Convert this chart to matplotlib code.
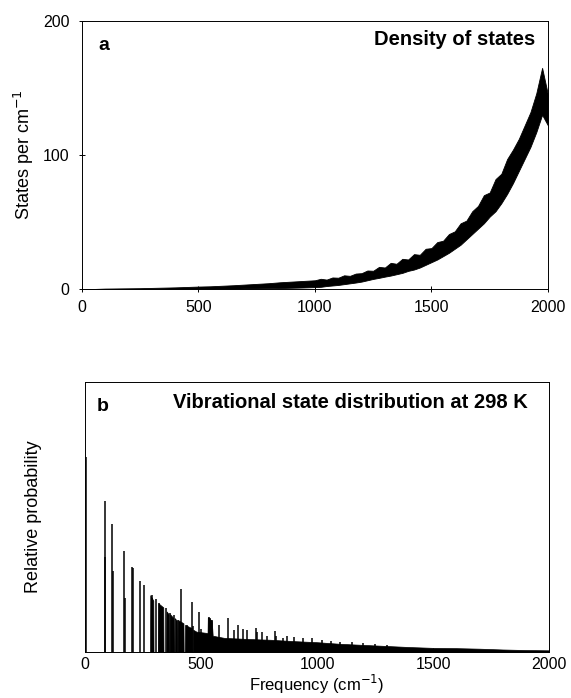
import matplotlib
matplotlib.use('Agg')
import matplotlib.pyplot as plt
import numpy as np

plt.rcParams['font.family'] = ['Liberation Sans', 'DejaVu Sans']

dos_freq = [0, 50, 100, 150, 200, 250, 300, 350, 400, 450, 500, 550, 600, 650, 700,
            750, 800, 850, 900, 950, 1000,
            1025, 1050, 1075, 1100, 1125, 1150, 1175, 1200, 1225, 1250, 1275, 1300,
            1325, 1350, 1375, 1400, 1425, 1450, 1475, 1500, 1525, 1550, 1575, 1600,
            1625, 1650, 1675, 1700, 1725, 1750, 1775, 1800, 1825, 1850, 1875, 1900,
            1925, 1950, 1975, 2000]
dos_high = [0, 0, 0.3, 0.4, 0.5, 0.6, 0.8, 1.0, 1.2, 1.5, 1.8, 2.0, 2.4, 2.8, 3.3,
            3.8, 4.3, 5.0, 5.5, 6.0, 6.5,
            7.6, 7.0, 8.6, 8.4, 10.2, 9.8, 11.5, 11.8, 13.8, 13.6, 16.5, 16.0,
            19.5, 18.8, 22.5, 22.0, 26.0, 25.5, 30.0, 30.5, 35.0, 36.0, 41.0, 43.0,
            49.0, 51.0, 58.0, 62.0, 70.0, 72.0, 82.0, 86.0, 97.0, 104.0, 112.0, 122.0,
            132.0, 146.0, 165.0, 145.0]
dos_low = [0, 0, 0, 0, 0, 0, 0, 0, 0.1, 0.1, 0.2, 0.2, 0.3, 0.3, 0.4,
           0.4, 0.5, 0.7, 0.9, 1.1, 1.4,
           1.6, 2.2, 2.6, 3.0, 3.6, 4.2, 4.8, 5.5, 6.5, 7.5, 8.3, 9.2,
           10, 11, 12, 13.5, 14.5, 16, 18, 20, 22, 24.5, 27, 30,
           33, 37, 41, 45, 49, 54, 58, 64, 71, 79, 88, 97,
           106, 117, 130, 122]

# Panel b: individual state sticks (frequency, relative height)
stick_freq = [2, 86, 88, 118, 120, 168, 170, 202, 205, 238, 254, 287, 290, 305,
              320, 348, 365, 382, 402, 414, 438, 460, 467, 492, 500, 532, 540,
              546, 578, 615, 640, 661, 680, 697, 736, 762, 784, 819, 740, 823,
              855, 870, 900, 940, 980, 1020, 1060, 1100, 1150, 1200, 1250, 1300]
stick_height = [0.72, 0.56, 0.35, 0.475, 0.30, 0.373, 0.20, 0.314, 0.31, 0.264,
                0.249, 0.211, 0.20, 0.196, 0.18, 0.162, 0.145, 0.135, 0.12,
                0.233, 0.101, 0.184, 0.095, 0.149, 0.085, 0.128, 0.125, 0.12,
                0.10, 0.124, 0.08, 0.10, 0.085, 0.08, 0.09, 0.075, 0.06, 0.079,
                0.074, 0.06, 0.052, 0.058, 0.055, 0.05, 0.05, 0.045, 0.042,
                0.038, 0.035, 0.032, 0.028, 0.024]

# Panel b: outline of the dense, unresolved blocks of states
env_freq = [280, 281, 294, 295, 315, 316, 337, 338, 350, 351, 360, 361, 365, 366,
            381, 382, 386, 387, 395, 396, 400, 401, 424, 425, 430, 431, 460, 461,
            465, 466, 480, 528, 529, 546, 550, 600, 650, 700, 800, 900, 1000, 1100,
            1200, 1300, 1400, 1500, 1600, 1700, 1800, 1900, 2000]
env_height = [0, 0.21, 0.19, 0, 0, 0.18, 0.165, 0, 0, 0.15, 0.14, 0, 0, 0.14,
              0.125, 0, 0, 0.125, 0.115, 0, 0, 0.118, 0.106, 0, 0, 0.10, 0.088, 0,
              0, 0.082, 0.075, 0.07, 0.128, 0.115, 0.06, 0.052, 0.05, 0.048, 0.045,
              0.04, 0.036, 0.03, 0.026, 0.022, 0.018, 0.015, 0.014, 0.012, 0.009,
              0.007, 0.006]

xticks = [0, 500, 1000, 1500, 2000]

fig = plt.figure(figsize=(5.71, 6.98), dpi=100)

# ---- panel a
axA = fig.add_axes([0.1436, 0.586, 0.816, 0.384])
axA.fill_between(dos_freq, dos_low, dos_high, color='black', linewidth=0.6)
axA.set_xlim(0, 2000)
axA.set_ylim(0, 200)
axA.set_xticks(xticks)
axA.set_yticks([0, 100, 200])
axA.tick_params(direction='inout', length=4, width=0.7, labelsize=11.5)
axA.tick_params(axis='x', pad=6)
axA.tick_params(axis='y', pad=7)
axA.set_ylabel('States per cm$^{-1}$', fontsize=13)
axA.yaxis.set_label_coords(-0.099, 0.5)
axA.text(0.035, 0.91, 'a', transform=axA.transAxes, fontsize=14,
         fontweight='bold', va='center', ha='left')
axA.text(0.972, 0.93, 'Density of states', transform=axA.transAxes,
         fontsize=14.5, fontweight='bold', va='center', ha='right')

# ---- panel b
axB = fig.add_axes([0.149, 0.066, 0.8126, 0.387])
axB.fill_between(env_freq, 0, env_height, color='black', linewidth=0.5)
axB.vlines(stick_freq, 0, stick_height, color='black', linewidth=1.1)
axB.set_xlim(0, 2000)
axB.set_ylim(0, 1)
axB.set_xticks(xticks)
axB.set_yticks([])
axB.tick_params(direction='in', length=3, width=0.7, labelsize=11.5, pad=4)
axB.set_ylabel('Relative probability', fontsize=13)
axB.yaxis.set_label_coords(-0.093, 0.5)
axB.set_xlabel('Frequency (cm$^{-1}$)', fontsize=12, labelpad=0)
axB.text(0.025, 0.907, 'b', transform=axB.transAxes, fontsize=14,
         fontweight='bold', va='center', ha='left')
axB.text(0.953, 0.922, 'Vibrational state distribution at 298 K',
         transform=axB.transAxes, fontsize=14.5, fontweight='bold',
         va='center', ha='right')

for ax in (axA, axB):
    for s in ax.spines.values():
        s.set_linewidth(0.7)

fig.savefig('out.png', dpi=100)
